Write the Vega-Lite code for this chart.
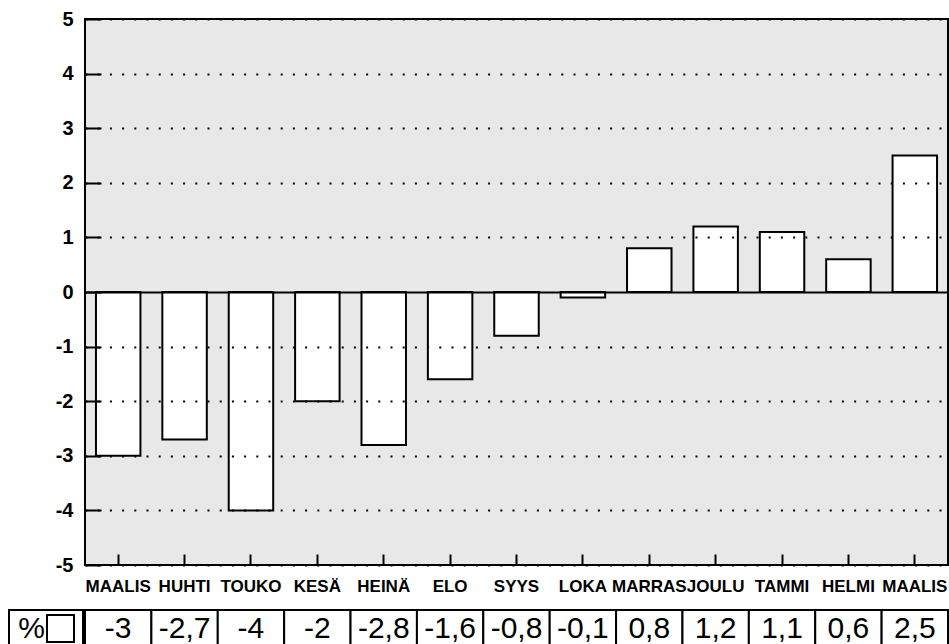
{
  "$schema": "https://vega.github.io/schema/vega-lite/v6.json",
  "padding": {"left": 8, "top": 8, "right": 0, "bottom": 0},
  "background": "white",
  "config": {
    "font": "Liberation Sans",
    "view": {"stroke": null},
    "locale": {"number": {"decimal": ",", "thousands": " ", "grouping": [3], "currency": ["", " €"], "minus": "-"}},
    "concat": {"spacing": 14}
  },
  "datasets": {
    "months": [
      {"month": "MAALIS", "change": -3},
      {"month": "HUHTI", "change": -2.7},
      {"month": "TOUKO", "change": -4},
      {"month": "KESÄ", "change": -2},
      {"month": "HEINÄ", "change": -2.8},
      {"month": "ELO", "change": -1.6},
      {"month": "SYYS", "change": -0.8},
      {"month": "LOKA", "change": -0.1},
      {"month": "MARRAS", "change": 0.8},
      {"month": "JOULU", "change": 1.2},
      {"month": "TAMMI", "change": 1.1},
      {"month": "HELMI", "change": 0.6},
      {"month": "MAALIS\u200b", "change": 2.5}
    ]
  },
  "vconcat": [
    {
      "width": 863,
      "height": 546,
      "view": {"fill": "#e8e8e8", "stroke": "black", "strokeWidth": 2},
      "data": {"name": "months"},
      "mark": {"type": "bar", "fill": "white", "stroke": "black", "strokeWidth": 2},
      "encoding": {
        "x": {
          "field": "month", "type": "nominal", "sort": null, "title": null,
          "scale": {"paddingInner": 0.33, "paddingOuter": 0.165},
          "axis": {"orient": "bottom", "domain": false, "tickSize": -11, "tickWidth": 2, "tickColor": "black",
                   "labelFontWeight": "bold", "labelFontSize": 17, "labelColor": "black", "labelAngle": 0,
                   "labelPadding": 24, "labelOverlap": false, "grid": false, "zindex": 1}
        },
        "y": {
          "field": "change", "type": "quantitative", "title": null,
          "scale": {"domain": [-5, 5], "nice": false},
          "axis": {"values": [-5, -4, -3, -2, -1, 0, 1, 2, 3, 4, 5], "domain": false, "tickSize": -16, "tickWidth": 2,
                   "tickColor": "black", "labelFontWeight": "bold", "labelFontSize": 20, "labelColor": "black",
                   "labelPadding": 28, "format": "d", "grid": true, "gridColor": "black", "gridWidth": 2, "gridOpacity": 1,
                   "gridDash": {"condition": {"test": "datum.value === 0", "value": []}, "value": [2, 10.2]}, "zindex": 1}
        }
      }
    },
    {
      "width": 863,
      "height": 37,
      "resolve": {"scale": {"x": "independent"}},
      "layer": [
        {
          "data": {"name": "months"},
          "encoding": {"x": {"field": "month", "type": "nominal", "sort": null, "axis": null, "scale": {"paddingInner": 0, "paddingOuter": 0}}},
          "layer": [
            {"mark": {"type": "rect", "fill": "white", "stroke": "black", "strokeWidth": 2}},
            {"mark": {"type": "text", "fontSize": 30, "color": "black"},
             "encoding": {"text": {"field": "change", "type": "quantitative", "format": ".1~f"}}}
          ]
        },
        {
          "data": {"values": [{"col": "%"}]},
          "encoding": {"x": {"field": "col", "type": "nominal", "axis": null, "scale": {"range": [-76, -2], "paddingInner": 0, "paddingOuter": 0}}},
          "layer": [
            {"mark": {"type": "rect", "fill": "white", "stroke": "black", "strokeWidth": 2}},
            {"mark": {"type": "text", "fontSize": 30, "color": "black", "xOffset": -14.5}, "encoding": {"text": {"field": "col"}}},
            {"mark": {"type": "point", "shape": "square", "size": 729, "filled": false, "stroke": "black", "strokeWidth": 2, "opacity": 1, "xOffset": 14.5}}
          ]
        }
      ]
    }
  ]
}
